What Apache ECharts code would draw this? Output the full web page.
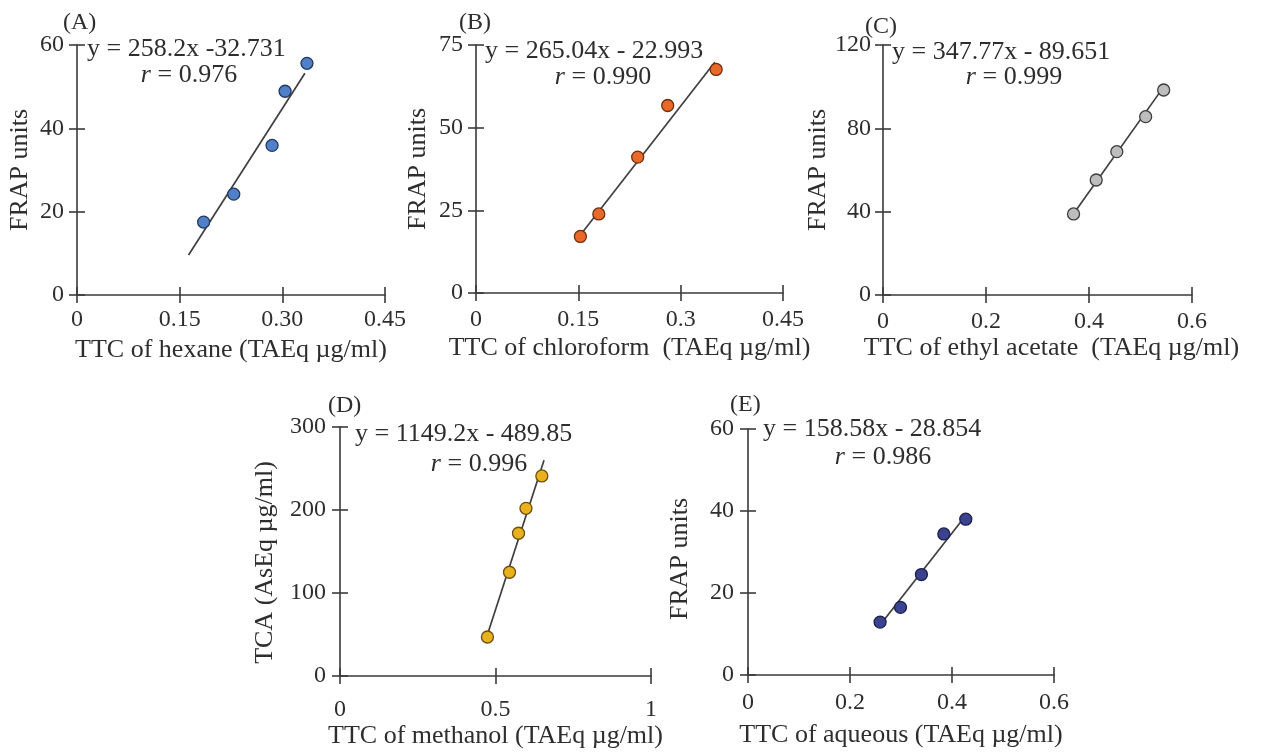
<!DOCTYPE html>
<html>
<head>
<meta charset="utf-8">
<script src="https://cdn.jsdelivr.net/npm/echarts@6/dist/echarts.min.js"></script>
<style>
html,body{margin:0;padding:0;background:#fff;}
#chart{width:1263px;height:753px;}
</style>
</head>
<body>
<div id="chart"></div>
<script>
// ---- Data ----
var hexaneX = [0.185, 0.229, 0.285, 0.304, 0.336];
var hexaneY = [17.5, 24.2, 35.9, 48.9, 55.6];
var hexaneFit = [[0.163, 9.6], [0.333, 53.2]];

var chloroformX = [0.153, 0.180, 0.237, 0.281, 0.352];
var chloroformY = [17.1, 23.9, 41.1, 56.7, 67.6];
var chloroformFit = [[0.157, 18.6], [0.350, 69.8]];

var ethylX = [0.370, 0.414, 0.454, 0.510, 0.545];
var ethylY = [38.9, 55.2, 68.8, 85.6, 98.4];
var ethylFit = [[0.370, 39.0], [0.545, 99.9]];

var methanolX = [0.474, 0.545, 0.574, 0.598, 0.649];
var methanolY = [47, 125, 172, 202, 241];
var methanolFit = [[0.476, 52], [0.656, 260]];

var aqueousX = [0.259, 0.299, 0.340, 0.384, 0.427];
var aqueousY = [12.9, 16.5, 24.5, 34.4, 38.0];
var aqueousFit = [[0.259, 12.2], [0.427, 38.9]];

// tick labels
var xTicksA = ['0', '0.15', '0.30', '0.45'];
var xTicksB = ['0', '0.15', '0.3', '0.45'];
var xTicksC = ['0', '0.2', '0.4', '0.6'];
var xTicksD = ['0', '0.5', '1'];
var xTicksE = ['0', '0.2', '0.4', '0.6'];
var yTicksA = ['0', '20', '40', '60'];
var yTicksB = ['0', '25', '50', '75'];
var yTicksC = ['0', '40', '80', '120'];
var yTicksD = ['0', '100', '200', '300'];
var yTicksE = ['0', '20', '40', '60'];

// texts
var panelLetters = ['(A)', '(B)', '(C)', '(D)', '(E)'];
var equations = ['y = 258.2x -32.731', 'y = 265.04x - 22.993', 'y = 347.77x - 89.651', 'y = 1149.2x - 489.85', 'y = 158.58x - 28.854'];
var rValues = ['0.976', '0.990', '0.999', '0.996', '0.986'];
var xNames = ['TTC of hexane (TAEq µg/ml)', 'TTC of chloroform  (TAEq µg/ml)', 'TTC of ethyl acetate  (TAEq µg/ml)', 'TTC of methanol (TAEq µg/ml)', 'TTC of aqueous (TAEq µg/ml)'];
var yNames = ['FRAP units', 'FRAP units', 'FRAP units', 'TCA (AsEq µg/ml)', 'FRAP units'];

// ---- Layout / style ----
var FONT = '"Liberation Serif", "Times New Roman", serif';
var TXT = '#2e2e2e';
var AX = '#3a3a3a';
var NAME_FS = 26, TICK_FS = 24, EQ_FS = 26;
var panels = [
  {grid: {left: 77, top: 45, width: 308, height: 250}, xmax: 0.45, xint: 0.15, xt: xTicksA, ymax: 60, yint: 20, yt: yTicksA,
   xs: hexaneX, ys: hexaneY, fit: hexaneFit, color: '#4f80c8', border: '#23385f',
   xLabM: 13, xNameGap: 42, xNamePad: [0, 0, 0, 0], yLabM: 13, yNameGap: 44, yNamePad: [0, 0, 0, 0],
   letter: [63, 23], eq: [87, 49], r: [189, 75]},
  {grid: {left: 476, top: 45, width: 307, height: 248}, xmax: 0.45, xint: 0.15, xt: xTicksB, ymax: 75, yint: 25, yt: yTicksB,
   xs: chloroformX, ys: chloroformY, fit: chloroformFit, color: '#e8692a', border: '#6e2f0c',
   xLabM: 15, xNameGap: 42, xNamePad: [0, 0, 0, 0], yLabM: 13, yNameGap: 45, yNamePad: [0, 0, 0, 0],
   letter: [459, 23], eq: [485, 51], r: [603, 77]},
  {grid: {left: 883, top: 45, width: 309, height: 250}, xmax: 0.6, xint: 0.2, xt: xTicksC, ymax: 120, yint: 40, yt: yTicksC,
   xs: ethylX, ys: ethylY, fit: ethylFit, color: '#bdbdbd', border: '#3c3c3c',
   xLabM: 15, xNameGap: 40, xNamePad: [0, 0, 0, 28], yLabM: 12, yNameGap: 40, yNamePad: [0, 0, 0, 0],
   letter: [865, 27], eq: [892, 52], r: [1014, 77]},
  {grid: {left: 340, top: 427, width: 311, height: 249}, xmax: 1, xint: 0.5, xt: xTicksD, ymax: 300, yint: 100, yt: yTicksD,
   xs: methanolX, ys: methanolY, fit: methanolFit, color: '#e8b21e', border: '#6b5012',
   xLabM: 22, xNameGap: 46, xNamePad: [0, 0, 0, 0], yLabM: 14, yNameGap: 62, yNamePad: [0, 22, 0, 0],
   letter: [328, 406], eq: [355, 434], r: [479, 464]},
  {grid: {left: 748, top: 429, width: 306, height: 246}, xmax: 0.6, xint: 0.2, xt: xTicksE, ymax: 60, yint: 20, yt: yTicksE,
   xs: aqueousX, ys: aqueousY, fit: aqueousFit, color: '#3b4290', border: '#1c1f48',
   xLabM: 16, xNameGap: 47, xNamePad: [0, 0, 0, 0], yLabM: 14, yNameGap: 55, yNamePad: [0, 14, 0, 0],
   letter: [730, 405], eq: [763, 429], r: [883, 457]}
];

function labelFmt(arr, interval) {
  return function (v) {
    var i = Math.round(v / interval);
    return arr[i] !== undefined ? arr[i] : '';
  };
}

var grids = [], xAxes = [], yAxes = [], series = [], graphics = [];
var n = panels.length;
panels.forEach(function (p, k) {
  grids.push(p.grid);
  // main axes (outside ticks + labels)
  xAxes.push({
    type: 'value', gridIndex: k, position: 'bottom', min: 0, max: p.xmax, interval: p.xint,
    name: xNames[k], nameLocation: 'middle', nameGap: p.xNameGap,
    nameTextStyle: {fontFamily: FONT, fontSize: NAME_FS, color: TXT, padding: p.xNamePad},
    axisLine: {show: true, lineStyle: {color: AX, width: 1.6}},
    axisTick: {show: true, inside: false, length: 8, lineStyle: {color: AX, width: 1.6}},
    axisLabel: {show: true, margin: p.xLabM, fontFamily: FONT, fontSize: TICK_FS, color: TXT, formatter: labelFmt(p.xt, p.xint)},
    splitLine: {show: false}
  });
  yAxes.push({
    type: 'value', gridIndex: k, position: 'left', min: 0, max: p.ymax, interval: p.yint,
    name: yNames[k], nameLocation: 'middle', nameGap: p.yNameGap, nameRotate: 90,
    nameTextStyle: {fontFamily: FONT, fontSize: NAME_FS, color: TXT, padding: p.yNamePad},
    axisLine: {show: true, lineStyle: {color: AX, width: 1.6}},
    axisTick: {show: true, inside: false, length: 8, lineStyle: {color: AX, width: 1.6}},
    axisLabel: {show: true, margin: p.yLabM, fontFamily: FONT, fontSize: TICK_FS, color: TXT, formatter: labelFmt(p.yt, p.yint)},
    splitLine: {show: false}
  });
});
// overlay grids (same rectangles) carrying inside ticks, so ticks cross the axis lines
panels.forEach(function (p, k) {
  grids.push(p.grid);
  xAxes.push({
    type: 'value', gridIndex: n + k, position: 'bottom', min: 0, max: p.xmax, interval: p.xint,
    axisLine: {show: false, onZero: false}, axisLabel: {show: false}, splitLine: {show: false},
    axisTick: {show: true, inside: true, length: 8, lineStyle: {color: AX, width: 1.6}}
  });
  yAxes.push({
    type: 'value', gridIndex: n + k, position: 'left', min: 0, max: p.ymax, interval: p.yint,
    axisLine: {show: false, onZero: false}, axisLabel: {show: false}, splitLine: {show: false},
    axisTick: {show: true, inside: true, length: 8, lineStyle: {color: AX, width: 1.6}}
  });
});

panels.forEach(function (p, k) {
  series.push({
    type: 'line', xAxisIndex: k, yAxisIndex: k, data: p.fit, symbol: 'none',
    lineStyle: {color: '#3f3f3f', width: 1.7}, silent: true, z: 2
  });
  series.push({
    type: 'scatter', xAxisIndex: k, yAxisIndex: k,
    data: p.xs.map(function (x, i) { return [x, p.ys[i]]; }),
    symbol: 'circle', symbolSize: 12,
    itemStyle: {color: p.color, borderColor: p.border, borderWidth: 1.3, opacity: 1}, z: 3
  });
  graphics.push({
    type: 'text', left: p.letter[0], top: p.letter[1] - 12,
    style: {text: panelLetters[k], fontFamily: FONT, fontSize: 24, fill: TXT}
  });
  graphics.push({
    type: 'text', x: p.eq[0], y: p.eq[1],
    style: {text: equations[k], fontFamily: FONT, fontSize: EQ_FS, fill: TXT, textAlign: 'left', textVerticalAlign: 'middle'}
  });
  graphics.push({
    type: 'text', x: p.r[0], y: p.r[1],
    style: {
      text: '{i|r} = ' + rValues[k], fontFamily: FONT, fontSize: EQ_FS, fill: TXT,
      textAlign: 'center', textVerticalAlign: 'middle',
      rich: {i: {fontStyle: 'italic', fontFamily: FONT, fontSize: EQ_FS, fill: TXT}}
    }
  });
});

var chart = echarts.init(document.getElementById('chart'), null, {renderer: 'canvas'});
chart.setOption({
  backgroundColor: '#ffffff',
  animation: false,
  grid: grids,
  xAxis: xAxes,
  yAxis: yAxes,
  series: series,
  graphic: graphics
});
</script>
</body>
</html>
